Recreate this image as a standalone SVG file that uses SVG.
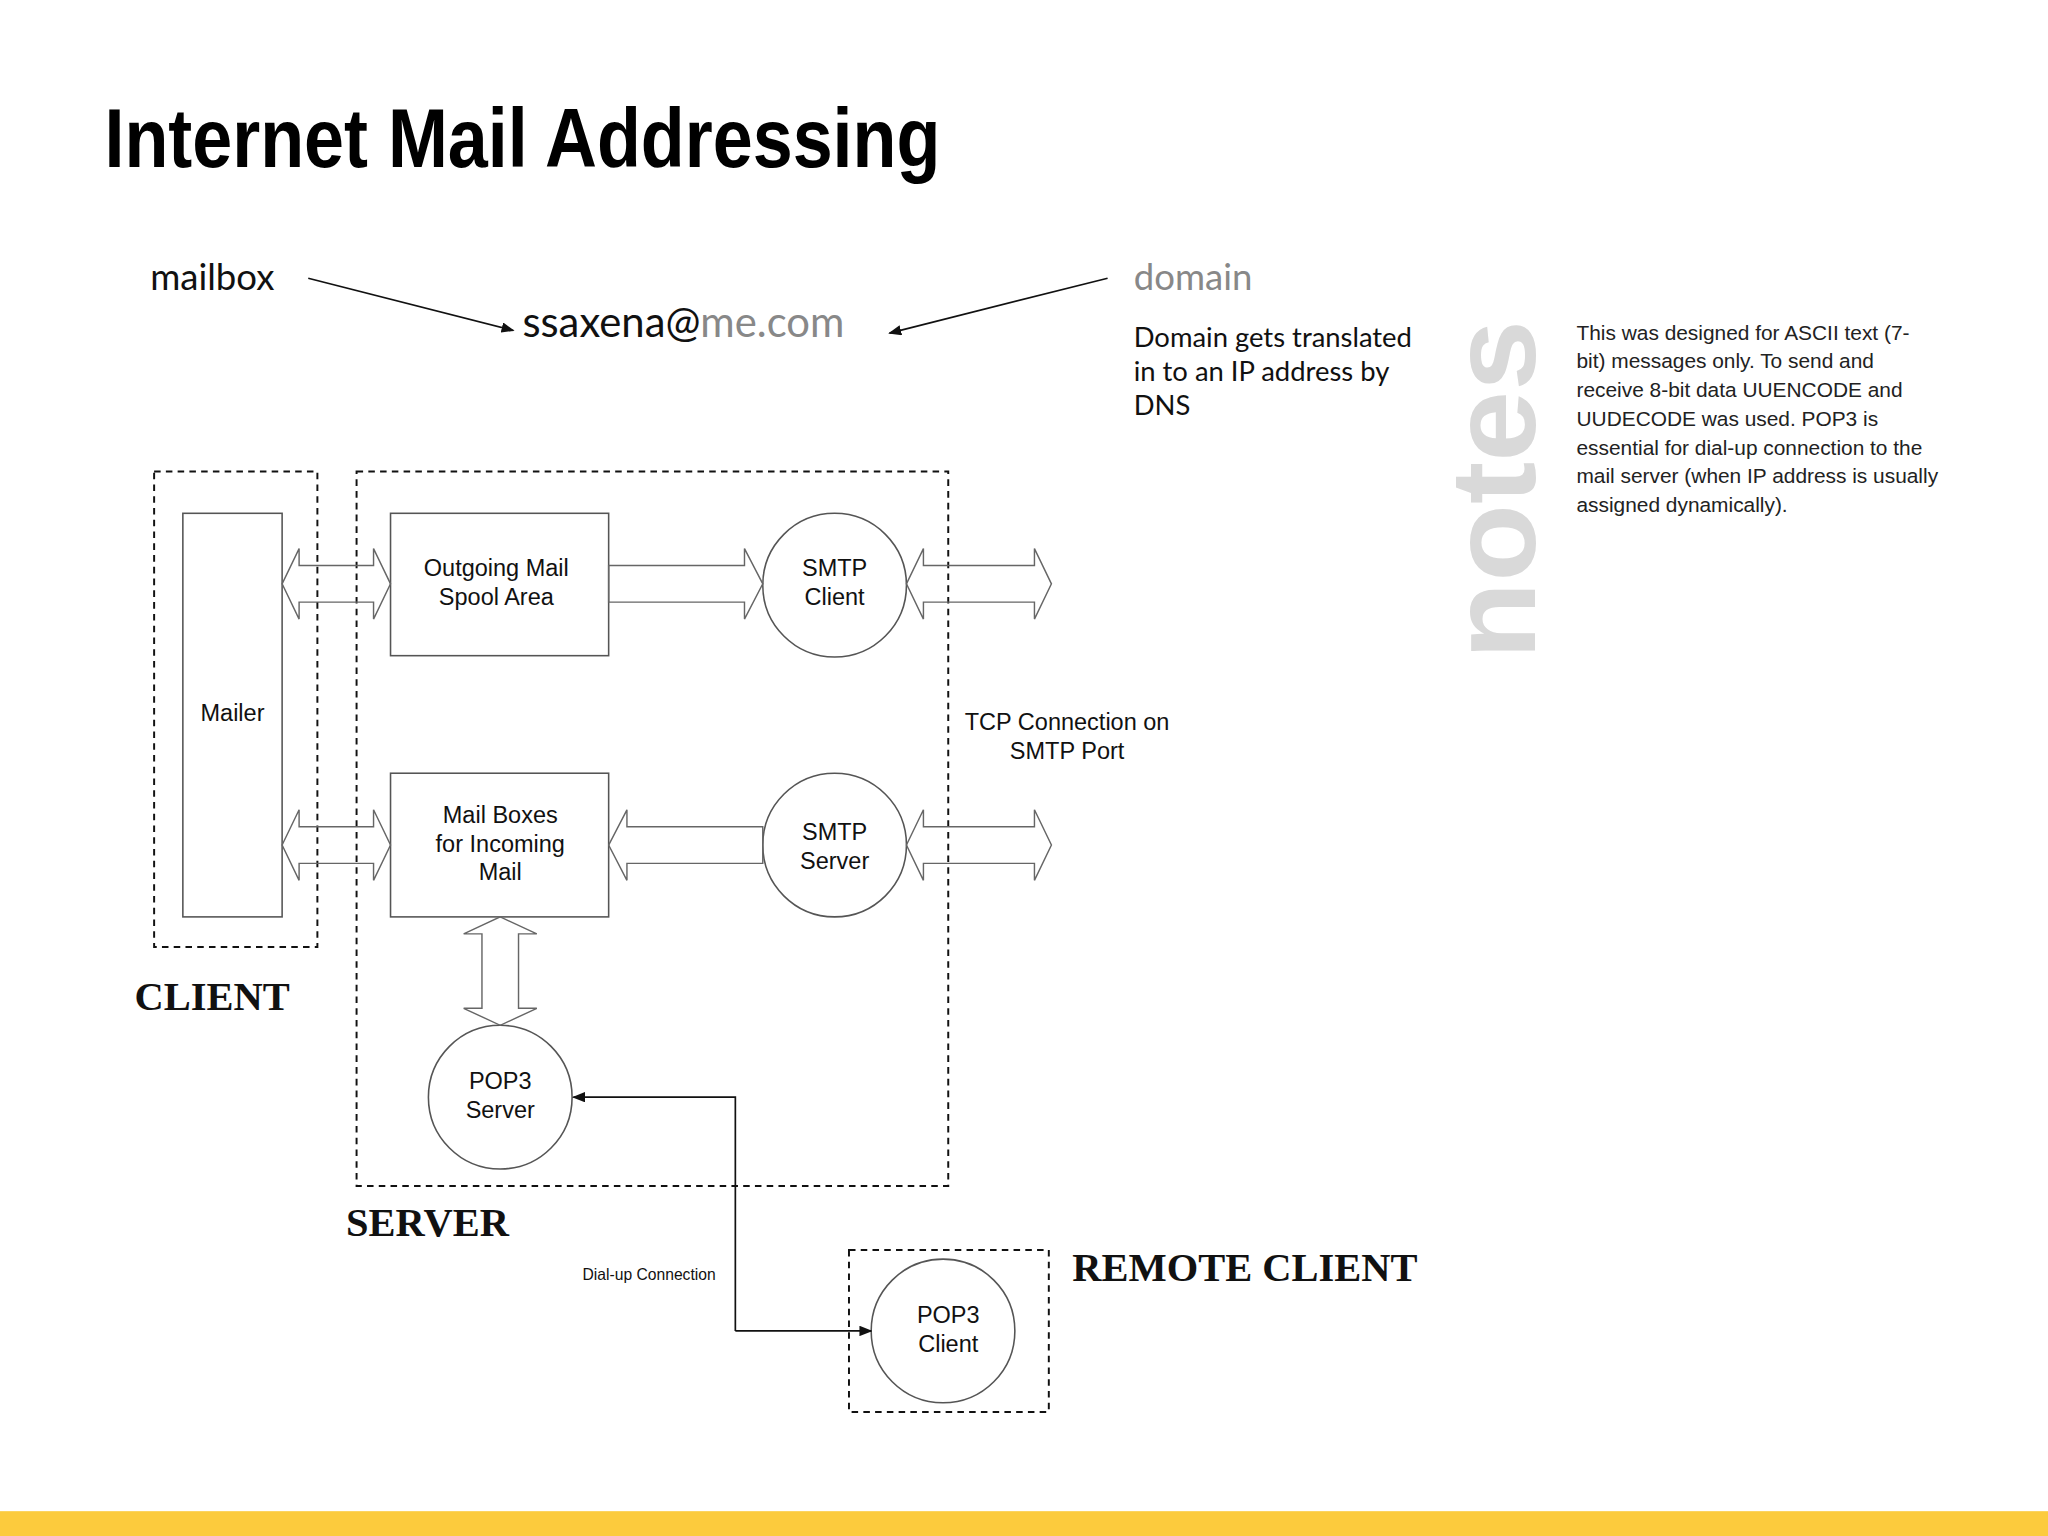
<svg xmlns="http://www.w3.org/2000/svg" width="2048" height="1536" viewBox="0 0 2048 1536">
<style>
.box{fill:none;stroke:#555;stroke-width:1.2}
.dash{fill:none;stroke:#111;stroke-width:1.5;stroke-dasharray:5,4}
.blk{fill:none;stroke:#666;stroke-width:1.1}
.lbl{font-family:"Liberation Sans",Arial,sans-serif;font-size:18px;fill:#111;text-anchor:middle}
.big{font-family:"Liberation Serif","Times New Roman",serif;font-weight:bold;font-size:31px;fill:#111}
.gill{font-family:Lato,"Open Sans",sans-serif}
.line{stroke:#111;stroke-width:1.3;fill:none}
</style>
<defs>
<marker id="ah" markerWidth="10" markerHeight="8" refX="9" refY="4" orient="auto" markerUnits="userSpaceOnUse"><path d="M0,0 L10,4 L0,8 Z" fill="#111"/></marker>
</defs>
<rect width="2048" height="1536" fill="#fff"/>
<g transform="scale(1.30612)">
<text x="80" y="128" font-family="Liberation Sans Narrow,Liberation Sans,Arial,sans-serif" font-weight="bold" font-size="64" textLength="640" lengthAdjust="spacingAndGlyphs" fill="#000">Internet Mail Addressing</text>
<g id="address">
<text x="115" y="222" class="gill" font-size="28" fill="#111">mailbox</text>
<text x="400" y="258" class="gill" font-size="32" fill="#111">ssaxena@<tspan fill="#888">me.com</tspan></text>
<text x="868" y="222" class="gill" font-size="28" fill="#888">domain</text>
<text class="gill" font-size="21" fill="#111"><tspan x="868" y="266">Domain gets translated</tspan><tspan x="868" y="292">in to an IP address by</tspan><tspan x="868" y="318">DNS</tspan></text>
</g>
<g id="notes">
<text transform="translate(1175,505) rotate(-90)" font-family="Liberation Sans,Arial,sans-serif" font-weight="bold" font-size="92" textLength="260" lengthAdjust="spacingAndGlyphs" fill="#d9d9d9">notes</text>
<text font-family="Liberation Sans,Arial,sans-serif" font-size="16" fill="#222"><tspan x="1207" y="260">This was designed for ASCII text (7-</tspan><tspan x="1207" y="282">bit) messages only. To send and</tspan><tspan x="1207" y="304">receive 8-bit data UUENCODE and</tspan><tspan x="1207" y="326">UUDECODE was used. POP3 is</tspan><tspan x="1207" y="348">essential for dial-up connection to the</tspan><tspan x="1207" y="370">mail server (when IP address is usually</tspan><tspan x="1207" y="392">assigned dynamically).</tspan></text>
</g>
<g id="client">
<rect x="118" y="361" width="125" height="364" class="dash"/>
<rect x="140" y="393" width="76" height="309" class="box"/>
<text x="178" y="552" class="lbl" font-size="14">Mailer</text>
<text x="103" y="773" class="big">CLIENT</text>
</g>
<g id="server">
<rect x="273" y="361" width="453" height="547" class="dash"/>
<text x="265" y="946" class="big">SERVER</text>
</g>
<g id="outgoing"><rect x="299" y="393" width="167" height="109" class="box"/><text class="lbl"><tspan x="380" y="441">Outgoing Mail</tspan><tspan x="380" y="463">Spool Area</tspan></text></g>
<g id="smtpclient"><circle cx="639" cy="448" r="55" class="box"/><text class="lbl"><tspan x="639" y="441">SMTP</tspan><tspan x="639" y="463">Client</tspan></text></g>
<g id="mailboxes"><rect x="299" y="592" width="167" height="110" class="box"/><text class="lbl"><tspan x="383" y="630">Mail Boxes</tspan><tspan x="383" y="652">for Incoming</tspan><tspan x="383" y="674">Mail</tspan></text></g>
<g id="smtpserver"><circle cx="639" cy="647" r="55" class="box"/><text class="lbl"><tspan x="639" y="643">SMTP</tspan><tspan x="639" y="665">Server</tspan></text></g>
<g id="pop3server"><circle cx="383" cy="840" r="55" class="box"/><text class="lbl"><tspan x="383" y="834">POP3</tspan><tspan x="383" y="856">Server</tspan></text></g>
<g id="remote">
<rect x="650" y="957" width="153" height="124" class="dash"/>
<circle cx="722" cy="1019" r="55" class="box"/><text class="lbl"><tspan x="726" y="1013">POP3</tspan><tspan x="726" y="1035">Client</tspan></text>
<text x="821" y="981" class="big">REMOTE CLIENT</text>
</g>
<g id="connectors">
<line x1="236" y1="213" x2="393" y2="253" class="line" marker-end="url(#ah)"/>
<line x1="848" y1="213" x2="681" y2="255" class="line" marker-end="url(#ah)"/>
<polygon class="blk" points="216,447 229,420 229,433 286,433 286,420 299,447 286,474 286,461 229,461 229,474"/>
<polygon class="blk" points="466,433 570,433 570,420 584,447 570,474 570,461 466,461"/>
<polygon class="blk" points="694,447 707,420 707,433 792,433 792,420 805,447 792,474 792,461 707,461 707,474"/>
<polygon class="blk" points="216,647 229,620 229,633 286,633 286,620 299,647 286,674 286,661 229,661 229,674"/>
<polygon class="blk" points="466,647 480,620 480,633 584,633 584,661 480,661 480,674"/>
<polygon class="blk" points="694,647 707,620 707,633 792,633 792,620 805,647 792,674 792,661 707,661 707,674"/>
<polygon class="blk" points="383,702 411,715 397,715 397,772 411,772 383,785 355,772 369,772 369,715 355,715"/>
<polyline points="563,1019 667,1019" class="line" stroke-width="1" marker-end="url(#ah)"/>
<polyline points="563,1019 563,840 439,840" class="line" stroke-width="1" marker-end="url(#ah)"/>
<text x="446" y="980" font-family="Liberation Sans,Arial,sans-serif" font-size="12" fill="#111">Dial-up Connection</text>
<text class="lbl"><tspan x="817" y="559">TCP Connection on</tspan><tspan x="817" y="581">SMTP Port</tspan></text>
</g>
<rect x="0" y="1157" width="1568" height="20" fill="#fccb3d"/>
</g>
</svg>
